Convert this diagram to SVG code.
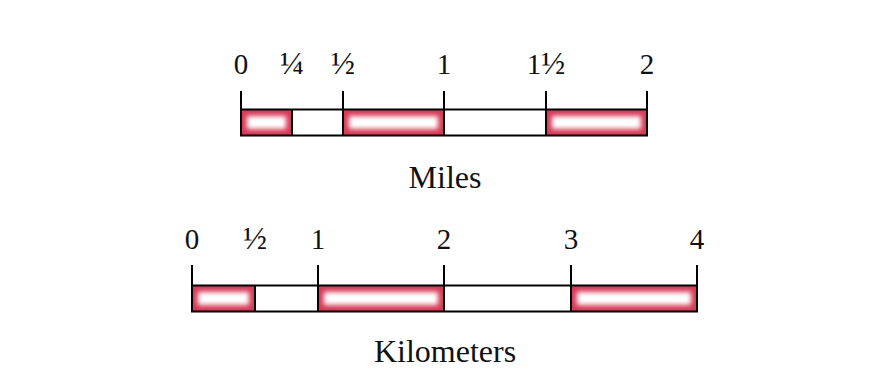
<svg xmlns="http://www.w3.org/2000/svg" width="877" height="379" viewBox="0 0 877 379">
<style>
text{font-family:"Liberation Serif","Times New Roman",serif;fill:#111;text-anchor:middle}
.n{font-size:29px}
.f{font-size:32px}
.t{font-size:32px}
.ln{stroke:#000;stroke-width:2;fill:none}
.red{fill:#d63a58}
.glow{fill:#fff;filter:url(#b)}
</style>
<defs>
<filter id="b" x="-20%" y="-60%" width="140%" height="220%"><feGaussianBlur stdDeviation="2.8"/></filter>
</defs>
<rect width="877" height="379" fill="#fff"/>
<g id="miles">
<g id="miles-fill">
<rect class="red" x="242" y="110" width="49" height="25"/>
<rect class="glow" x="247" y="116" width="39" height="13"/>
<rect class="red" x="344" y="110" width="99" height="25"/>
<rect class="glow" x="349" y="116" width="89" height="13"/>
<rect class="red" x="547" y="110" width="99" height="25"/>
<rect class="glow" x="552" y="116" width="89" height="13"/>
</g>
<g class="ln">
<rect x="241" y="109.5" width="406" height="26"/>
<line x1="241" y1="91" x2="241" y2="110"/>
<line x1="292" y1="109" x2="292" y2="136"/>
<line x1="343" y1="91" x2="343" y2="136"/>
<line x1="444" y1="91" x2="444" y2="136"/>
<line x1="546" y1="91" x2="546" y2="136"/>
<line x1="647" y1="91" x2="647" y2="110"/>
</g>
<text class="n" x="241" y="74">0</text>
<text class="f" x="292" y="74">¼</text>
<text class="f" x="343" y="74">½</text>
<text class="n" x="444" y="74">1</text>
<text class="n" x="546" y="74">1<tspan class="f">½</tspan></text>
<text class="n" x="647" y="74">2</text>
<text class="t" x="445" y="188">Miles</text>
</g>
<g id="kilometers">
<g id="km-fill">
<rect class="red" x="193" y="286" width="61" height="25"/>
<rect class="glow" x="198" y="292" width="51" height="13"/>
<rect class="red" x="319" y="286" width="124" height="25"/>
<rect class="glow" x="324" y="292" width="114" height="13"/>
<rect class="red" x="572" y="286" width="124" height="25"/>
<rect class="glow" x="577" y="292" width="114" height="13"/>
</g>
<g class="ln">
<rect x="192" y="285.5" width="505" height="26"/>
<line x1="192" y1="265" x2="192" y2="286"/>
<line x1="255" y1="285" x2="255" y2="312"/>
<line x1="318" y1="265" x2="318" y2="312"/>
<line x1="444" y1="265" x2="444" y2="312"/>
<line x1="571" y1="265" x2="571" y2="312"/>
<line x1="697" y1="265" x2="697" y2="286"/>
</g>
<text class="n" x="192" y="249">0</text>
<text class="f" x="255" y="249">½</text>
<text class="n" x="318" y="249">1</text>
<text class="n" x="444" y="249">2</text>
<text class="n" x="571" y="249">3</text>
<text class="n" x="697" y="249">4</text>
<text class="t" x="445" y="362">Kilometers</text>
</g>
</svg>
